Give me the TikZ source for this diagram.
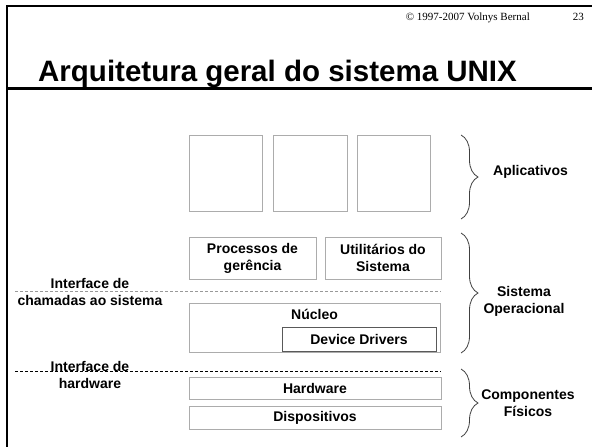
\documentclass[tikz,border=0pt]{standalone}
\usepackage{fontspec}
\setmainfont{Liberation Sans}
\newfontfamily\serifa{Liberation Serif}
\usetikzlibrary{positioning,decorations.pathreplacing}

\tikzset{
  caixa/.style={draw=gray!65, line width=0.8pt, inner sep=0pt, outer sep=0pt, align=center,
    font=\bfseries\fontsize{14}{17}\selectfont},
  rotulo/.style={align=center, inner sep=0pt, font=\bfseries\fontsize{14}{17}\selectfont},
  chave/.style={decorate, decoration={brace, amplitude=17pt}, line width=0.8pt, black!75},
  interface/.style={dash pattern=on 3pt off 2pt, line width=0.8pt}
}

\begin{document}
\begin{tikzpicture}[x=1pt, y=-1pt]
  \useasboundingbox (0,0) rectangle (592,447);
  \draw[line width=2pt] (592,6) -- (7,6) -- (7,447);
  \draw[line width=3pt] (7,88) -- (592,88);
  \node[font=\serifa\fontsize{11}{12}\selectfont, anchor=base east, inner sep=0pt] (copy) at (530,20) {© 1997-2007 Volnys Bernal};
  \node[font=\serifa\fontsize{11}{12}\selectfont, anchor=base east, inner sep=0pt] (pag) at (584,20) {23};
  \node[font=\bfseries\fontsize{29.5}{33}\selectfont, anchor=base west, inner sep=0pt] (titulo) at (38,81) {Arquitetura geral do sistema UNIX};

  \node[caixa, minimum width=73pt, minimum height=76pt] (app1) at (225.5,173) {};
  \node[caixa, minimum width=74pt, minimum height=76pt, right=11pt of app1] (app2) {};
  \node[caixa, minimum width=73pt, minimum height=76pt, right=10pt of app2] (app3) {};

  \node[caixa, minimum width=127pt, minimum height=42pt] (procger) at (252.5,258) {Processos de\\gerência};
  \node[caixa, minimum width=116pt, minimum height=42pt, right=9pt of procger] (util) {Utilitários do\\Sistema};

  \node[caixa, minimum width=251pt, minimum height=49pt] (nucleo) at (314.5,327.5) {};
  \path (nucleo.north) ++(0,16) node[rotulo, anchor=base] (nucleotxt) {Núcleo};
  \node[caixa, draw=black!65, minimum width=154pt, minimum height=24pt] (drivers) at (359,339) {Device Drivers};

  \node[caixa, minimum width=252pt, minimum height=22pt] (hw) at (315,388) {Hardware};
  \node[caixa, minimum width=252pt, minimum height=23pt, below=7pt of hw] (disp) {Dispositivos};

  \coordinate (sc0) at (15,291);
  \coordinate (sc1) at (441,291);
  \draw[interface, gray!80] (sc0) -- (sc1);
  \coordinate (ih0) at (15,371);
  \coordinate (ih1) at (441,371);
  \draw[interface] (ih0) -- (ih1);
  \node[rotulo] (ifsc) at (90,291.5) {Interface de\\chamadas ao sistema};
  \node[rotulo] (ifhw) at (90,374.5) {Interface de\\hardware};

  \coordinate (ap0) at (461,135);
  \coordinate (ap1) at (461,219);
  \draw[chave] (ap0) -- (ap1);
  \coordinate (so0) at (461,233);
  \coordinate (so1) at (461,353);
  \draw[chave] (so0) -- (so1);
  \coordinate (cf0) at (461,369);
  \coordinate (cf1) at (461,437);
  \draw[chave] (cf0) -- (cf1);
  \node[rotulo] (aplic) at (530.5,172) {Aplicativos};
  \node[rotulo] (sisop) at (524,301) {Sistema\\Operacional};
  \node[rotulo] (compfis) at (528,403) {Componentes\\Físicos};
\end{tikzpicture}
\end{document}
